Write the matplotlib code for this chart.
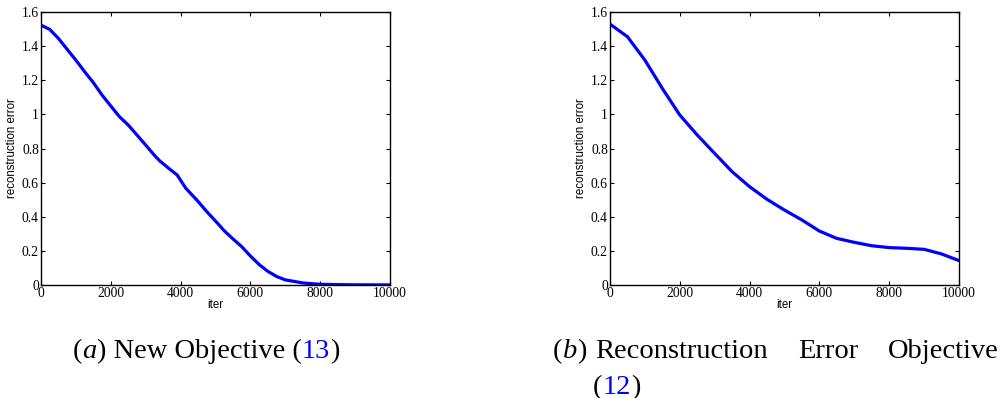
import matplotlib
matplotlib.use('Agg')
import matplotlib.pyplot as plt
import numpy as np

# new objective (13)
iter_a = [0, 250, 500, 750, 1000, 1250, 1500, 1750, 2000, 2250, 2500, 2750, 3000,
          3250, 3400, 3700, 3900, 4150, 4500, 4750, 5000, 5250, 5500, 5750, 6000,
          6250, 6500, 6750, 7000, 7500, 8000, 8500, 9000, 10000]
err_a = [1.523, 1.498, 1.445, 1.381, 1.318, 1.25, 1.186, 1.113, 1.049, 0.986, 0.9375,
         0.879, 0.82, 0.76, 0.728, 0.677, 0.645, 0.567, 0.49, 0.43, 0.375, 0.318,
         0.27, 0.225, 0.17, 0.12, 0.08, 0.05, 0.03, 0.012, 0.004, 0.002, 0.001,
         0.0005]

# reconstruction error objective (12)
iter_b = [0, 500, 1000, 1500, 2000, 2500, 3000, 3500, 4000, 4500, 5000, 5500, 6000,
          6500, 7000, 7500, 8000, 8500, 9000, 9500, 10000]
err_b = [1.529, 1.455, 1.318, 1.152, 0.996, 0.879, 0.771, 0.664, 0.576, 0.502, 0.439,
         0.381, 0.316, 0.273, 0.25, 0.23, 0.219, 0.215, 0.209, 0.182, 0.143]

xticks = [0, 2000, 4000, 6000, 8000, 10000]
yticks = [0, 0.2, 0.4, 0.6, 0.8, 1, 1.2, 1.4, 1.6]

W, H = 1002, 398
fig = plt.figure(figsize=(W/100, H/100), dpi=100)

def make_ax(left_px, x, y):
    ax = fig.add_axes([left_px/W, 1-285/H, 349/W, 273/H])
    ax.plot(x, y, color=(0, 0, 1), lw=2.3)
    ax.set_xlim(0, 10000)
    ax.set_ylim(0, 1.6)
    ax.set_xticks(xticks)
    ax.set_yticks(yticks)
    ax.set_xticklabels(['%g' % t for t in xticks], family='Liberation Serif', fontsize=9.8)
    ax.set_yticklabels(['%g' % t for t in yticks], family='Liberation Serif', fontsize=9.8)
    ax.tick_params(direction='in', length=3, width=0.8, top=True, right=True, pad=1.5)
    for s in ax.spines.values():
        s.set_linewidth(1.0)
    ax.set_xlabel('iter', family='Liberation Sans', fontsize=8.3, labelpad=-1)
    ax.set_ylabel('reconstruction error', family='Liberation Sans', fontsize=8.3, labelpad=3)
    return ax

make_ax(41, iter_a, err_a)
make_ax(610, iter_b, err_b)

renderer = fig.canvas.get_renderer()

def pieces(x_px, y_px, parts, size=20.5):
    # parts: list of (text, color, style)
    x = x_px
    for txt, col, sty in parts:
        t = fig.text(x/W, 1-y_px/H, txt, color=col, style=sty, family='Liberation Serif',
                     fontsize=size, ha='left', va='baseline')
        x += t.get_window_extent(renderer).width

pieces(73, 358, [('(', 'black', 'normal'), ('a', 'black', 'italic'),
                 (') New Objective (', 'black', 'normal'), ('13', 'blue', 'normal'),
                 (')', 'black', 'normal')])
pieces(553, 358, [('(', 'black', 'normal'), ('b', 'black', 'italic'),
                  (')', 'black', 'normal')])
pieces(595, 358, [('Reconstruction', 'black', 'normal')])
pieces(798, 358, [('Error', 'black', 'normal')])
pieces(888, 358, [('Objective', 'black', 'normal')])
pieces(593, 394, [('(', 'black', 'normal'), ('12', 'blue', 'normal'),
                  (')', 'black', 'normal')])

fig.savefig('out.png', dpi=100)
